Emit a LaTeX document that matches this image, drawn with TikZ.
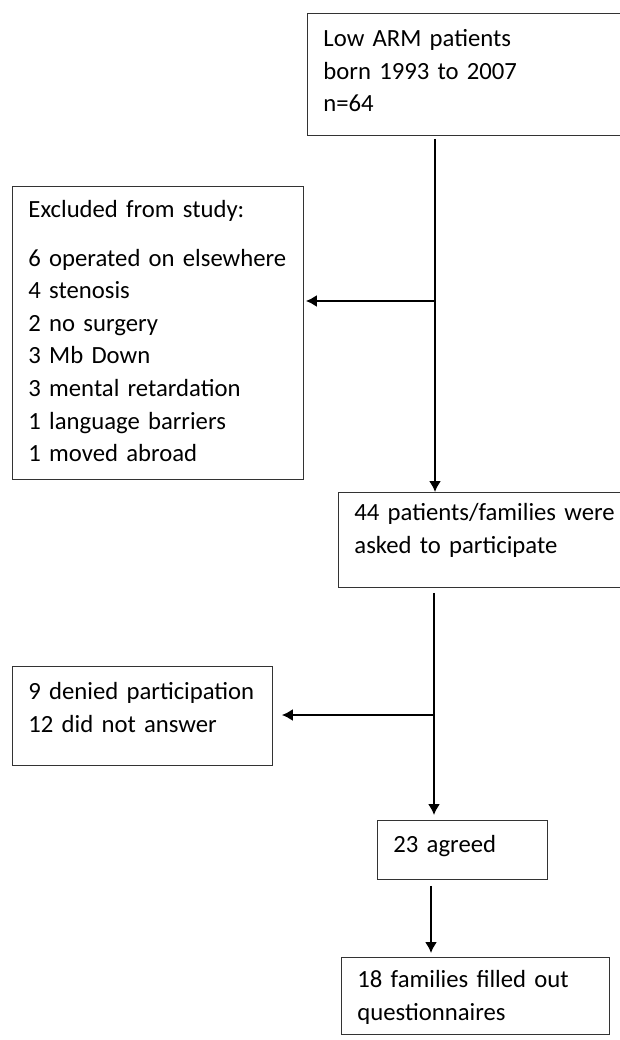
\documentclass[tikz,border=0pt]{standalone}
\usepackage{fontspec}
\setmainfont{Carlito}
\usetikzlibrary{arrows.meta,positioning,calc}
\tikzset{
  flowbox/.style={draw=black!80, line width=0.9pt, anchor=north west, align=left, inner xsep=16pt, inner ysep=0pt, font=\fontsize{24.7}{32.6}\selectfont},
  line/.style={-{Latex[length=11pt,width=12pt]}, line width=1.7pt},
  plain/.style={line width=1.7pt}
}
\begin{document}
\begin{tikzpicture}[x=1pt,y=-1pt]
  \useasboundingbox (0,0) rectangle (620,1040);

  \node[flowbox, text width=311pt, text height=33pt, text depth=89pt] (start) at (307,13) {Low ARM patients\\born 1993 to 2007\\n=64};
  \node[flowbox, text width=259pt, text height=31pt, text depth=262pt] (excl) at (12,186) {Excluded from study:\\[16pt]6 operated on elsewhere\\4 stenosis\\2 no surgery\\3 Mb Down\\3 mental retardation\\1 language barriers\\1 moved abroad};
  \node[flowbox, text width=280pt, text height=28pt, text depth=67pt] (asked) at (338,492) {44 patients/families were\\asked to participate};
  \node[flowbox, text width=228pt, text height=33pt, text depth=66pt] (denied) at (12,666) {9 denied participation\\12 did not answer};
  \node[flowbox, text width=138pt, text height=32pt, text depth=27pt] (agreed) at (377,820) {23 agreed};
  \node[flowbox, text width=236pt, text height=30pt, text depth=47pt] (filled) at (341,957) {18 families filled out\\questionnaires};

  \coordinate (split1) at (435,301);
  \coordinate (split2) at (434,715);
  \coordinate (down3) at (431,900);

  \draw[line, shorten <=3pt] (start.south -| split1) -- (asked.north -| split1);
  \draw[line, shorten >=2pt] (split1) -- (split1 -| excl.east);
  \draw[line, shorten <=5pt, shorten >=5pt] (asked.south -| split2) -- (agreed.north -| split2);
  \draw[line, shorten >=9pt] (split2) -- (split2 -| denied.east);
  \draw[line, shorten <=6pt, shorten >=4pt] (agreed.south -| down3) -- (filled.north -| down3);
\end{tikzpicture}
\end{document}
